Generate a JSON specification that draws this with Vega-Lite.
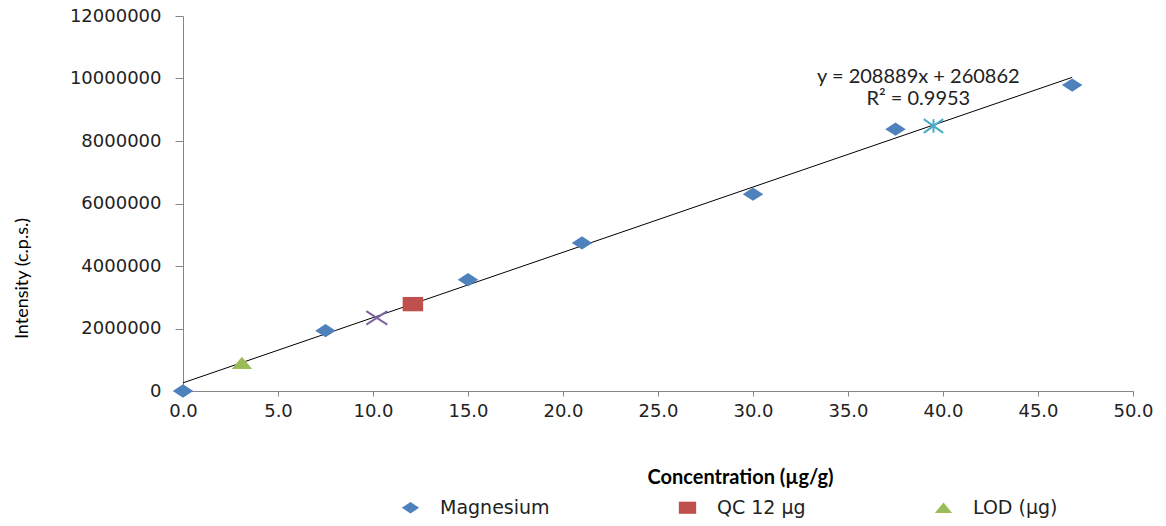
{
  "$schema": "https://vega.github.io/schema/vega-lite/v6.json",
  "width": 950,
  "height": 375,
  "autosize": {"type": "none"},
  "padding": {"left": 183, "top": 16, "right": 33, "bottom": 135},
  "background": "white",
  "config": {
    "view": {"stroke": null},
    "axis": {
      "grid": false,
      "labelFlush": false,
      "domainColor": "#868686",
      "tickColor": "#868686",
      "labelColor": "#222222",
      "labelFont": "DejaVu Sans",
      "labelFontSize": 18,
      "titleColor": "#000000"
    }
  },
  "datasets": {
    "points": [
      {"series": "Magnesium", "conc": 0.0, "intensity": 0},
      {"series": "Magnesium", "conc": 7.5, "intensity": 1930000},
      {"series": "Magnesium", "conc": 15.0, "intensity": 3560000},
      {"series": "Magnesium", "conc": 21.0, "intensity": 4740000},
      {"series": "Magnesium", "conc": 30.0, "intensity": 6300000},
      {"series": "Magnesium", "conc": 37.5, "intensity": 8380000},
      {"series": "Magnesium", "conc": 46.8, "intensity": 9790000},
      {"series": "QC 12 µg", "conc": 12.1, "intensity": 2780000},
      {"series": "LOD (µg)", "conc": 3.1, "intensity": 900000}
    ],
    "sample": [
      {"conc": 10.2, "intensity": 2340000}
    ],
    "spike": [
      {"conc": 39.5, "intensity": 8480000}
    ],
    "fit": [
      {"conc": 0.0, "intensity": 260862},
      {"conc": 46.8, "intensity": 10036867}
    ]
  },
  "layer": [
    {
      "data": {"name": "fit"},
      "mark": {"type": "line", "color": "#000000", "strokeWidth": 1},
      "encoding": {
        "x": {
          "field": "conc",
          "type": "quantitative",
          "scale": {"domain": [0, 50], "nice": false},
          "axis": {
            "values": [0, 5, 10, 15, 20, 25, 30, 35, 40, 45, 50],
            "format": ".1f",
            "tickSize": 5,
            "labelPadding": 6,
            "title": "Concentration (µg/g)",
            "titleFont": "Lato",
            "titleFontWeight": "bold",
            "titleFontSize": 20,
            "titleX": 557,
            "titleY": 86,
            "titleAlign": "center",
            "titleBaseline": "middle"
          }
        },
        "y": {
          "field": "intensity",
          "type": "quantitative",
          "scale": {"domain": [0, 12000000], "nice": false},
          "axis": {
            "values": [0, 2000000, 4000000, 6000000, 8000000, 10000000, 12000000],
            "format": "d",
            "tickSize": 8,
            "labelPadding": 14,
            "title": "Intensity (c.p.s.)",
            "titleFont": "Lato",
            "titleFontWeight": "normal",
            "titleFontSize": 18,
            "titleAngle": -90,
            "titleX": -161,
            "titleY": 262,
            "titleAlign": "center",
            "titleBaseline": "middle"
          }
        }
      }
    },
    {
      "data": {"name": "points"},
      "mark": {"type": "point", "filled": true, "size": 420, "opacity": 1},
      "encoding": {
        "x": {"field": "conc", "type": "quantitative"},
        "y": {"field": "intensity", "type": "quantitative"},
        "color": {
          "field": "series",
          "type": "nominal",
          "scale": {
            "domain": ["Magnesium", "QC 12 µg", "LOD (µg)"],
            "range": ["#4F81BD", "#C0504D", "#9BBB59"]
          },
          "legend": {
            "title": null,
            "orient": "none",
            "direction": "horizontal",
            "legendX": 218,
            "legendY": 482,
            "columns": 3,
            "columnPadding": 128,
            "labelFont": "DejaVu Sans",
            "labelFontSize": 19,
            "labelColor": "#222222",
            "labelOffset": 20,
            "symbolSize": 300,
            "symbolStrokeWidth": 0
          }
        },
        "shape": {
          "field": "series",
          "type": "nominal",
          "scale": {
            "domain": ["Magnesium", "QC 12 µg", "LOD (µg)"],
            "range": [
              "M-1,0L0,-0.65L1,0L0,0.65Z",
              "M-1,-0.7H1V0.7H-1Z",
              "M-1,0.6L0,-0.6L1,0.6Z"
            ]
          }
        }
      }
    },
    {
      "data": {"name": "sample"},
      "mark": {
        "type": "point",
        "shape": "M-1,-0.65L1,0.65M-1,0.65L1,-0.65",
        "size": 440,
        "filled": false,
        "stroke": "#8064A2",
        "strokeWidth": 2,
        "opacity": 1
      },
      "encoding": {
        "x": {"field": "conc", "type": "quantitative"},
        "y": {"field": "intensity", "type": "quantitative"}
      }
    },
    {
      "data": {"name": "spike"},
      "mark": {
        "type": "point",
        "shape": "M-1,-0.7L1,0.7M-1,0.7L1,-0.7M0,-0.7L0,0.7",
        "size": 380,
        "filled": false,
        "stroke": "#4BACC6",
        "strokeWidth": 2,
        "opacity": 1
      },
      "encoding": {
        "x": {"field": "conc", "type": "quantitative"},
        "y": {"field": "intensity", "type": "quantitative"}
      }
    },
    {
      "data": {"values": [{}]},
      "mark": {
        "type": "text",
        "text": ["y = 208889x + 260862", "R² = 0.9953"],
        "font": "Lato",
        "fontSize": 20,
        "lineHeight": 22,
        "align": "center",
        "baseline": "top",
        "color": "#222222"
      },
      "encoding": {
        "x": {"datum": 38.7},
        "y": {"datum": 10360000}
      }
    }
  ]
}
